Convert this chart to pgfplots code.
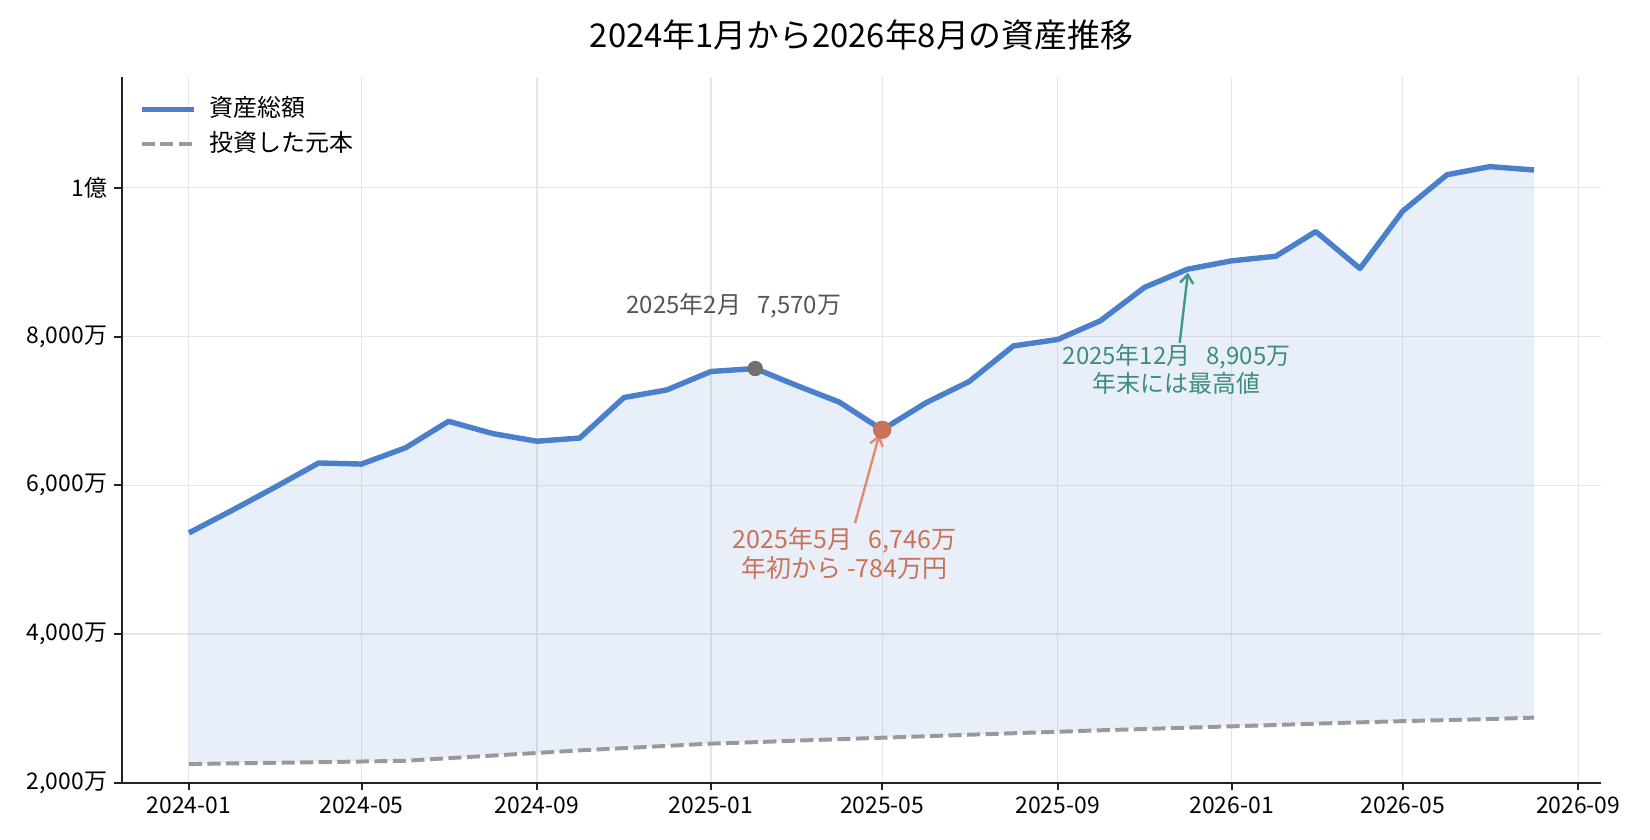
\documentclass[border=0pt]{standalone}
\usepackage{pgfplots}
\pgfplotsset{compat=1.18}
\usepackage{pgfplotstable}
\usepgfplotslibrary{fillbetween}
\usetikzlibrary{arrows.meta}
\usepackage{fontspec}
\setmainfont{Noto Sans CJK JP}
\definecolor{assetblue}{RGB}{74,127,203}
\definecolor{princgray}{RGB}{153,153,153}
\definecolor{markgray}{RGB}{112,112,112}
\definecolor{labgray}{RGB}{85,85,85}
\definecolor{redtxt}{RGB}{200,114,89}
\definecolor{redarrow}{RGB}{224,138,112}
\definecolor{greentxt}{RGB}{61,140,124}
\definecolor{greenarrow}{RGB}{62,154,136}
\definecolor{gridc}{RGB}{230,230,230}
\definecolor{spine}{RGB}{34,34,34}

% x = days since 2024-01-01, y in 万円
\pgfplotstableread{
x y
0 5360
31 5670
60 5970
91 6300
121 6285
152 6505
182 6860
213 6695
244 6592
274 6635
305 7180
335 7282
366 7530
397 7570
425 7350
456 7118
486 6746
517 7112
547 7395
578 7874
609 7960
639 8212
670 8662
700 8905
731 9018
762 9080
790 9412
821 8915
851 9688
882 10176
912 10285
943 10240
}\assets

\pgfplotstableread{
x y
0 2250
31 2260
60 2268
91 2276
121 2285
152 2295
182 2330
213 2365
244 2400
274 2435
305 2465
335 2495
366 2525
397 2545
425 2565
456 2585
486 2605
517 2625
547 2645
578 2665
609 2685
639 2705
670 2722
700 2740
731 2758
762 2776
790 2794
821 2812
851 2828
882 2842
912 2856
943 2875
}\principal

\begin{document}
\begin{tikzpicture}
\begin{axis}[
  name=ax,
  at={(58.4pt,27.5pt)}, anchor=south west,
  scale only axis,
  width=710.2pt, height=338.9pt,
  xmin=-47.15, xmax=990.15,
  ymin=2000, ymax=11495,
  scaled x ticks=false, scaled y ticks=false,
  axis lines=left,
  axis line style={-, spine, line width=0.95pt},
  tick style={spine, line width=0.95pt},
  tick align=outside,
  major tick length=3.5pt,
  xtick={0,121,244,366,486,609,731,851,974},
  xticklabels={2024-01,2024-05,2024-09,2025-01,2025-05,2025-09,2026-01,2026-05,2026-09},
  ytick={2000,4000,6000,8000,10000},
  yticklabels={{2,000万},{4,000万},{6,000万},{8,000万},{1億}},
  ticklabel style={font=\fontsize{11}{13}\selectfont},
  grid=major,
  major grid style={gridc, line width=0.55pt},
  legend style={at={(0,1)}, anchor=north west, xshift=8.1pt, yshift=-7.3pt,
    draw=none, fill=none, inner sep=0pt,
    font=\fontsize{11.5}{13.5}\selectfont,
    nodes={inner xsep=0pt, inner ysep=2.5pt, text height=9pt, text depth=2.7pt, anchor=west},
    column sep=6.1pt, row sep=0pt},
  legend image code/.code={\draw[#1] (0pt,0pt) -- (25.2pt,0pt);},
  legend cell align=left,
]
\addplot[draw=none, name path=A, forget plot] table[x=x,y=y]{\assets};
\addplot[draw=none, name path=P, forget plot] table[x=x,y=y]{\principal};
\addplot[fill=assetblue, fill opacity=0.12, draw=none, forget plot] fill between[of=A and P];

\addplot[assetblue, line width=2.6pt, line join=round] table[x=x,y=y]{\assets};
\addlegendentry{資産総額}
\addplot[princgray, line width=1.9pt, dash pattern=on 6.3pt off 2.6pt] table[x=x,y=y]{\principal};
\addlegendentry{投資した元本}

\addplot[only marks, mark=*, mark size=3.5pt, color=markgray, forget plot] coordinates {(397,7570)};
\addplot[only marks, mark=*, mark size=4.2pt, color=redtxt, forget plot] coordinates {(486,6746)};

\node[labgray, font=\fontsize{11.5}{13.5}\selectfont] at (axis cs:382,8411) {2025年2月\ \ \ 7,570万};

\draw[redarrow, line width=1.15pt, -{Straight Barb[length=4.2pt,width=6.3pt]}] (axis cs:467,5490) -- (axis cs:484,6680);
\node[redtxt, font=\fontsize{12}{14.2}\selectfont, align=center] at (axis cs:459.6,5080) {2025年5月\ \ \ 6,746万\\年初から -784万円};

\draw[greenarrow, line width=1.15pt, -{Straight Barb[length=4.2pt,width=6.3pt]}] (axis cs:694.6,7915) -- (axis cs:700.4,8860);
\node[greentxt, font=\fontsize{11.5}{13.5}\selectfont, align=center] at (axis cs:692.4,7560) {2025年12月\ \ \ 8,905万\\年末には最高値};
\end{axis}
\node[font=\fontsize{15.75}{19}\selectfont] at ([yshift=20.2pt]ax.north) {2024年1月から2026年8月の資産推移};
\pgfresetboundingbox
\useasboundingbox (0,0) rectangle (792pt,403.2pt);
\end{tikzpicture}
\end{document}
